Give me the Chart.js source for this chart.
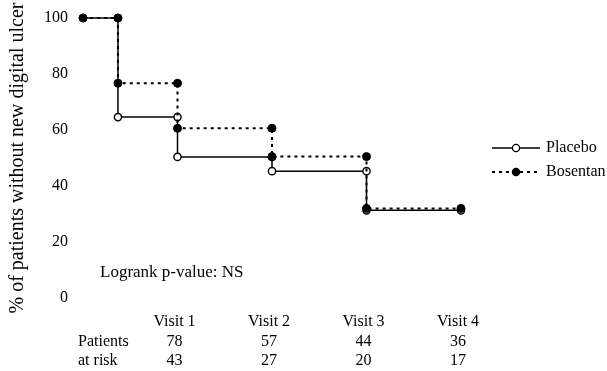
<!DOCTYPE html>
<html>
<head>
<meta charset="utf-8">
<script src="https://cdn.jsdelivr.net/npm/chart.js@4/dist/chart.umd.min.js"></script>
<style>
  html, body { margin: 0; padding: 0; background: #fff; }
  #wrap { width: 607px; height: 371px; position: relative; }
</style>
</head>
<body>
<div id="wrap"><canvas id="c" width="607" height="371"></canvas></div>
<script>
// ---- data ----
const eventTimes   = [0, 0.37, 1, 2, 3, 4];           // 0 = baseline, 1..4 = visits
const placeboSurv  = [100, 64.6, 50.4, 45.3, 31.3, 31.3];
const bosentanSurv = [100, 76.7, 60.6, 50.5, 32.0, 32.0];
const visitLabels  = ['Visit 1', 'Visit 2', 'Visit 3', 'Visit 4'];
const visitTimes   = [1, 2, 3, 4];
const riskRowLabels = ['Patients', 'at risk'];
const riskRow1     = [78, 57, 44, 36];
const riskRow2     = [43, 27, 20, 17];
const yTickStep    = 20;
const seriesNames  = ['Placebo', 'Bosentan'];
const annotation   = 'Logrank p-value: NS';
const yTitle       = '% of patients without new digital ulcer';

const FONT = '"Liberation Serif", "Times New Roman", serif';

function stepVertices(times, vals) {
  const pts = [];
  for (let i = 0; i < times.length; i++) {
    if (i > 0) pts.push({x: times[i], y: vals[i - 1]});
    if (i === 0 || vals[i] !== vals[i - 1]) pts.push({x: times[i], y: vals[i]});
  }
  return pts;
}

const extras = {
  id: 'extras',
  afterDraw(chart) {
    const ctx = chart.ctx;
    const xs = chart.scales.x;
    ctx.save();
    ctx.fillStyle = '#000';
    ctx.textBaseline = 'middle';
    // annotation
    ctx.font = '17px ' + FONT;
    ctx.textAlign = 'left';
    ctx.fillText(annotation, 100, 273);
    // risk table
    ctx.font = '16px ' + FONT;
    ctx.fillText(riskRowLabels[0], 78, 342);
    ctx.fillText(riskRowLabels[1], 78, 361);
    ctx.textAlign = 'center';
    visitTimes.forEach((t, i) => {
      const px = xs.getPixelForValue(t) - 3;
      ctx.fillText(visitLabels[i], px, 322);
      ctx.fillText(String(riskRow1[i]), px, 342);
      ctx.fillText(String(riskRow2[i]), px, 361);
    });
    // legend
    const lx0 = 492, lx1 = 540, lmx = 516;
    const rows = [
      {y: 148, name: seriesNames[0], dash: [], fill: '#fff'},
      {y: 172, name: seriesNames[1], dash: [3, 4], fill: '#000'}
    ];
    rows.forEach(r => {
      ctx.beginPath();
      ctx.setLineDash(r.dash);
      ctx.lineWidth = r.dash.length ? 1.8 : 1.4;
      ctx.strokeStyle = '#000';
      ctx.moveTo(lx0, r.y); ctx.lineTo(lx1, r.y);
      ctx.stroke();
      ctx.setLineDash([]);
      ctx.beginPath();
      ctx.arc(lmx, r.y, 3.6, 0, Math.PI * 2);
      ctx.fillStyle = r.fill;
      ctx.fill();
      ctx.lineWidth = 1.3;
      ctx.stroke();
      ctx.fillStyle = '#000';
      ctx.textAlign = 'left';
      ctx.fillText(r.name, 546, r.y);
    });
    ctx.restore();
  }
};

new Chart(document.getElementById('c'), {
  type: 'line',
  data: {
    datasets: [
      {
        label: seriesNames[1],
        data: stepVertices(eventTimes, bosentanSurv),
        borderColor: '#000',
        borderWidth: 2,
        borderDash: [3, 4],
        pointRadius: 4,
        pointBackgroundColor: '#000',
        pointBorderColor: '#000',
        pointBorderWidth: 1,
        tension: 0,
        clip: false
      },
      {
        label: seriesNames[0],
        data: stepVertices(eventTimes, placeboSurv),
        borderColor: '#000',
        borderWidth: 1.5,
        pointRadius: 3.6,
        pointBackgroundColor: '#fff',
        pointBorderColor: '#000',
        pointBorderWidth: 1.4,
        tension: 0,
        clip: false
      }
    ]
  },
  options: {
    responsive: false,
    animation: false,
    events: [],
    layout: { padding: { left: 0, right: 146, top: 18, bottom: 73 } },
    plugins: { legend: { display: false }, tooltip: { enabled: false } },
    scales: {
      x: { type: 'linear', min: 0, max: 4, display: false },
      y: {
        type: 'linear', min: 0, max: 100,
        afterFit: (s) => { s.width = 83; },
        grid: { display: true, drawOnChartArea: false, drawTicks: true, tickLength: 13, tickColor: 'rgba(0,0,0,0)' },
        border: { display: false },
        ticks: { stepSize: yTickStep, padding: 2, color: '#000', font: { family: FONT, size: 16 } },
        title: {
          display: true, text: yTitle, color: '#000',
          font: { family: FONT, size: 20 }, padding: { top: 6, bottom: 0 }
        }
      }
    }
  },
  plugins: [extras]
});
</script>
</body>
</html>
